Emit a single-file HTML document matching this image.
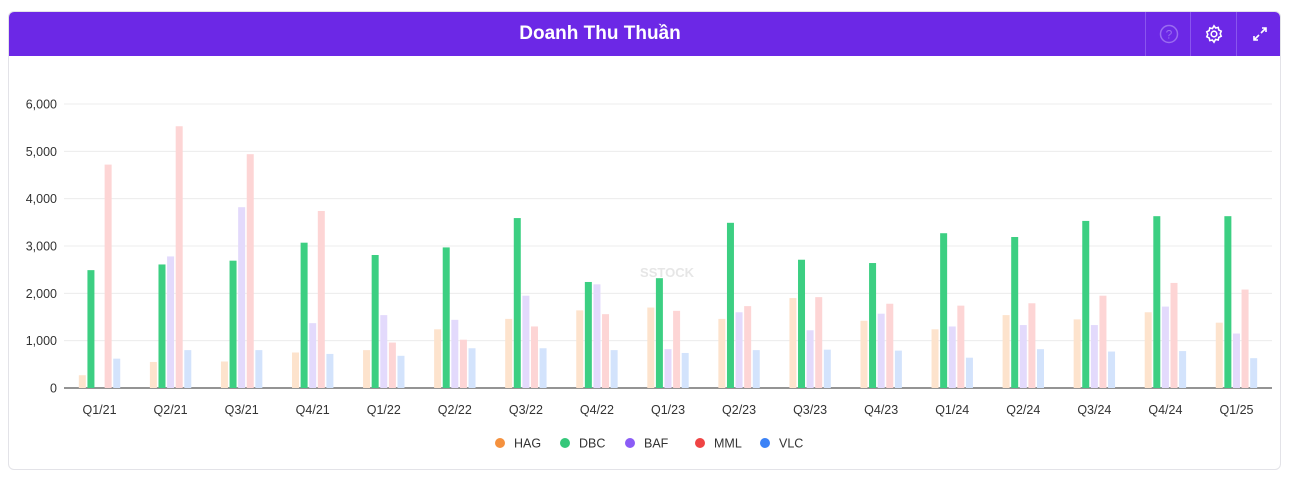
<!DOCTYPE html>
<html><head><meta charset="utf-8"><style>
body{margin:0;width:1291px;height:480px;background:#fff;font-family:"Liberation Sans",sans-serif;overflow:hidden}
.card{position:absolute;left:8px;top:11px;width:1273px;height:459px;border:1px solid #e3e3e8;border-radius:6px;box-sizing:border-box;overflow:hidden}
.hdr{position:absolute;left:0;top:0;width:100%;height:44px;background:#6c28e6;color:#fff}
.title{position:absolute;left:0;width:1182px;top:0;line-height:44px;text-align:center;font-size:19px;font-weight:bold}
.btn{position:absolute;top:0;height:44px;width:45px;border-left:1px solid #8a55ee;display:flex;align-items:center;justify-content:center}
</style></head><body>
<div class="card">
<div class="hdr">
<div class="title">Doanh Thu Thuần</div>
<div class="btn" style="left:1136px"><svg width="20" height="20"><circle cx="10" cy="10" r="8.5" fill="none" stroke="#9a6cf0" stroke-width="1.5"/><text x="10" y="14.5" font-size="12" text-anchor="middle" fill="#9a6cf0" font-family="Liberation Sans">?</text></svg></div>
<div class="btn" style="left:1181px"><svg width="20" height="20" viewBox="0 0 20 20"><g fill="none" stroke="#fff" stroke-width="1.6"><circle cx="10" cy="10" r="2.8"/><path d="M10 1.8l1.6 2.2 2.6-.6.6 2.6 2.4 1.2-1 2.6 1 2.4-2.4 1.2-.6 2.6-2.6-.6L10 18.2l-1.6-2.2-2.6.6-.6-2.6-2.4-1.2 1-2.4-1-2.6 2.4-1.2.6-2.6 2.6.6z"/></g></svg></div>
<div class="btn" style="left:1227px"><svg width="16" height="16"><g stroke="#fff" stroke-width="1.6" fill="none"><path d="M9 7l5-5M10 2h4v4M7 9l-5 5M2 10v4h4"/></g></svg></div>
</div>
</div>
<svg id="chart" width="1291" height="480" style="position:absolute;left:0;top:0">
<text x="667" y="277" font-size="13" font-weight="bold" fill="#e6e6e6" text-anchor="middle" font-family="Liberation Sans">SSTOCK</text>
</svg>
<script>
const categories=["Q1/21","Q2/21","Q3/21","Q4/21","Q1/22","Q2/22","Q3/22","Q4/22","Q1/23","Q2/23","Q3/23","Q4/23","Q1/24","Q2/24","Q3/24","Q4/24","Q1/25"];
const seriesNames=["HAG","DBC","BAF","MML","VLC"];
const HAG=[270,550,560,750,800,1240,1460,1640,1700,1460,1900,1420,1240,1540,1450,1600,1380];
const DBC=[2490,2610,2690,3070,2810,2970,3590,2240,2320,3490,2710,2640,3270,3190,3530,3630,3630];
const BAF=[0,2780,3820,1370,1540,1440,1950,2190,820,1600,1220,1570,1300,1330,1330,1720,1150];
const MML=[4720,5530,4940,3740,960,1020,1300,1560,1630,1730,1920,1780,1740,1790,1950,2220,2080];
const VLC=[620,800,800,720,680,840,840,800,740,800,810,790,640,820,770,780,630];
const yTicks=[0,1000,2000,3000,4000,5000,6000];
const series=[HAG,DBC,BAF,MML,VLC];
const fills=["#fde3cd","#3ccf82","#e3dafc","#fdd5d5","#d3e3fc"];
const dots=["#f5913e","#35c77a","#8b5cf6","#ef4444","#3b82f6"];
const svg=document.getElementById('chart');const NS="http://www.w3.org/2000/svg";
const X0=64,X1=1272,Y0=388,Y6=104;
const y=v=>Y0-(v/6000)*(Y0-Y6);
const gw=(X1-X0)/categories.length;
const xc=i=>X0+gw*(i+0.5);
function mk(t,a,txt){const e=document.createElementNS(NS,t);for(const k in a)e.setAttribute(k,a[k]);if(txt!=null)e.textContent=txt;svg.appendChild(e);return e;}
yTicks.forEach(t=>{
 const l=mk('line',{x1:X0,x2:X1,y1:y(t),y2:y(t),stroke:t?'#ececec':'#555','stroke-width':t?1:1.2});
 
 
 const tx=mk('text',{x:57,y:y(t)+4.5,'text-anchor':'end','font-size':12.5,fill:'#333'},t.toLocaleString('en-US'));
 
 
});
categories.forEach((c,i)=>{
 series.forEach((s,j)=>{
  const bx=xc(i)+(j-2)*8.6-3.5;
  const r=mk('rect',{x:bx,y:y(s[i]),width:7,height:Y0-y(s[i]),fill:fills[j]});
  
  
 });
 const t=mk('text',{x:xc(i),y:414,'text-anchor':'middle','font-size':12.5,fill:'#333'},c);
 
 
});
const lx=[500,565,630,700,765];
seriesNames.forEach((n,j)=>{
 const g=document.createElementNS(NS,'g');svg.appendChild(g);
 
 
 const c=document.createElementNS(NS,'circle');c.setAttribute('cx',lx[j]);c.setAttribute('cy',443);c.setAttribute('r',5);c.setAttribute('fill',dots[j]);g.appendChild(c);
 const t=document.createElementNS(NS,'text');t.setAttribute('x',lx[j]+14);t.setAttribute('y',447.5);t.setAttribute('font-size',12.5);t.setAttribute('fill','#333');t.textContent=n;g.appendChild(t);
});
</script>
</body></html>
